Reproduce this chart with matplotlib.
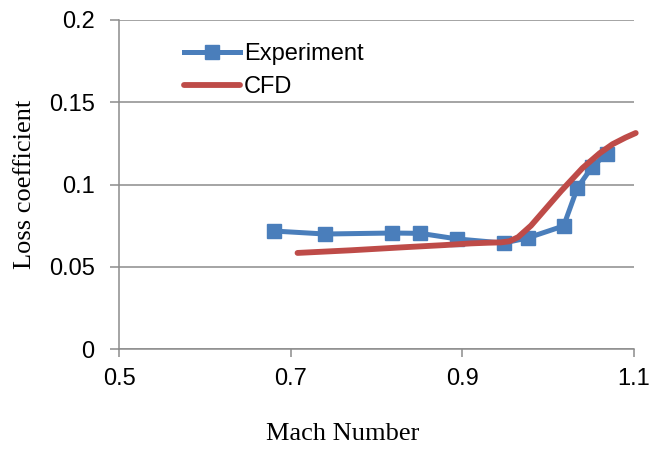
import matplotlib
matplotlib.use("Agg")
import matplotlib.pyplot as plt

# Measured loss coefficient vs Mach number
exp_mach = [0.681, 0.740, 0.818, 0.851, 0.894, 0.948, 0.976, 1.018, 1.034, 1.051, 1.068]
exp_loss = [0.0717, 0.0699, 0.0705, 0.0703, 0.0669, 0.0644, 0.0675, 0.0748, 0.0979, 0.1106, 0.1187]

# CFD prediction
cfd_mach = [0.708, 0.770, 0.830, 0.880, 0.910, 0.930, 0.945, 0.955, 0.965, 0.980,
            0.995, 1.015, 1.040, 1.060, 1.075, 1.090, 1.102]
cfd_loss = [0.0584, 0.0600, 0.0618, 0.0632, 0.0642, 0.0646, 0.0648, 0.0655, 0.0680, 0.0750,
            0.0840, 0.0960, 0.1100, 0.1190, 0.1245, 0.1285, 0.1313]

x_ticks = [0.5, 0.7, 0.9, 1.1]
y_ticks = [0, 0.05, 0.1, 0.15, 0.2]
x_tick_labels = ["0.5", "0.7", "0.9", "1.1"]
y_tick_labels = ["0", "0.05", "0.1", "0.15", "0.2"]

blue = "#4A7EBB"
red = "#BE4B48"
grid_c = "#8C8C8C"
sans = ["Liberation Sans", "DejaVu Sans"]
serif = ["Liberation Serif", "DejaVu Serif"]

fig = plt.figure(figsize=(6.53, 4.5), dpi=100)
ax = fig.add_axes([119 / 653, 1 - 349 / 450, (634 - 119) / 653, (349 - 20) / 450])

ax.plot(exp_mach, exp_loss, color=blue, lw=3.6, marker="s", markersize=9.5,
        markeredgecolor=blue, markerfacecolor=blue, label="Experiment",
        solid_joinstyle="round", zorder=3)
ax.plot(cfd_mach, cfd_loss, color=red, lw=4.2, label="CFD",
        solid_capstyle="round", solid_joinstyle="round", zorder=4, clip_on=False)

ax.set_xlim(0.5, 1.1)
ax.set_ylim(0, 0.2)
ax.set_xticks(x_ticks)
ax.set_xticklabels(x_tick_labels)
ax.set_yticks(y_ticks)
ax.set_yticklabels(y_tick_labels)

ax.grid(axis="y", color=grid_c, lw=1.1)
ax.set_axisbelow(True)
for side in ("top", "right"):
    ax.spines[side].set_visible(False)
for side in ("left", "bottom"):
    ax.spines[side].set_color(grid_c)
    ax.spines[side].set_linewidth(1.1)

for t in ax.get_xticklabels() + ax.get_yticklabels():
    t.set_fontfamily(sans)
    t.set_fontsize(17)
ax.tick_params(axis="y", direction="out", length=6.5, width=1.1, color=grid_c, pad=11)
ax.tick_params(axis="x", direction="out", length=5.5, width=1.1, color=grid_c, pad=8)

ax.set_ylabel("Loss coefficient", fontfamily=serif, fontsize=19)
ax.yaxis.set_label_coords((36 - 119) / 515, 0.5)
ax.set_xlabel("Mach Number", fontfamily=serif, fontsize=19)
ax.xaxis.set_label_coords((343 - 119) / 515, (349 - 423) / 329)

ax.legend(loc="upper left", bbox_to_anchor=(0.107, 0.958), frameon=False,
          prop=dict(family=sans, size=17),
          handlelength=2.37, handletextpad=0.2, labelspacing=0.45, borderaxespad=0)

fig.savefig("out.png", dpi=100)
